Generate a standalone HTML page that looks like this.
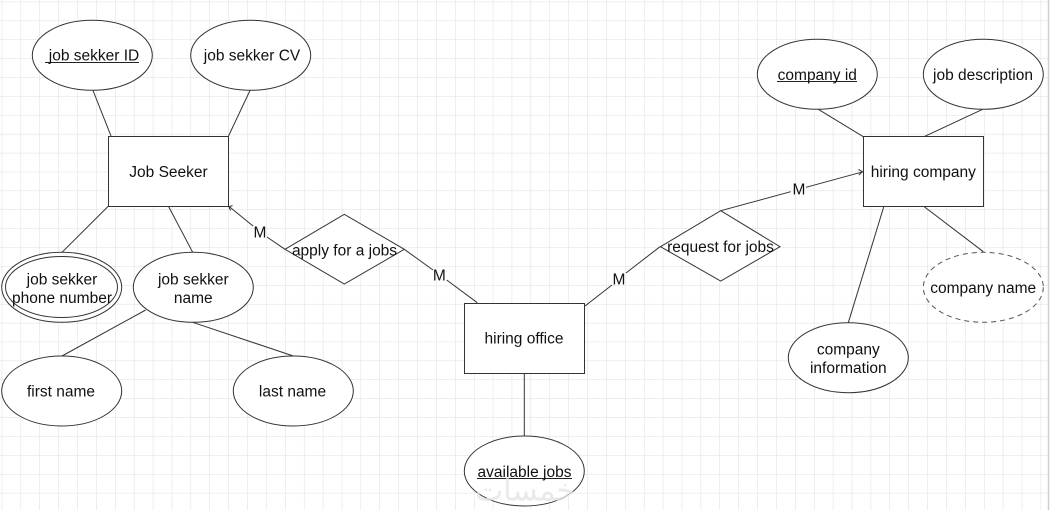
<!DOCTYPE html>
<html>
<head>
<meta charset="utf-8">
<style>
html,body{margin:0;padding:0;background:#fff;}
svg{display:block;}
text{font-family:"Liberation Sans",Arial,sans-serif;font-size:15.5px;fill:#111;}
</style>
</head>
<body>
<svg width="1051" height="510" viewBox="0 0 1051 510" xmlns="http://www.w3.org/2000/svg">
<defs>
<pattern id="grid" x="1.7" y="1.7" width="18.89" height="18.89" patternUnits="userSpaceOnUse">
<path d="M0 0 H18.89 M0 0 V18.89" stroke="#dedede" stroke-width="1" fill="none"/>
</pattern>
</defs>
<rect x="0" y="0" width="1051" height="510" fill="#fff"/>
<rect x="0" y="0" width="1048" height="510" fill="url(#grid)"/>
<line x1="1048.5" y1="0" x2="1048.5" y2="510" stroke="#cfcfcf" stroke-width="1.5"/>

<g stroke="#333" stroke-width="1" fill="none">
<!-- Job Seeker connections -->
<line x1="93" y1="90.5" x2="111" y2="136"/>
<line x1="250" y1="90.5" x2="228.5" y2="136"/>
<line x1="108.5" y1="206" x2="62" y2="252.3"/>
<line x1="168.3" y1="206" x2="192.7" y2="252.3"/>
<line x1="145.7" y1="310" x2="62" y2="356"/>
<line x1="192.7" y1="322.3" x2="293.3" y2="356"/>
<!-- Job seeker to apply -->
<line x1="228.5" y1="206" x2="253" y2="226"/>
<polyline points="232.5,205.5 229,206.8 230.5,210.5"/>
<line x1="267" y1="237" x2="285" y2="249.3"/>
<!-- apply to hiring office -->
<line x1="404.3" y1="249.3" x2="433" y2="270"/>
<line x1="446.7" y1="280" x2="477.3" y2="302.7"/>
<!-- hiring office to request -->
<line x1="585" y1="306" x2="612" y2="285"/>
<line x1="626" y1="273" x2="660" y2="246.7"/>
<!-- request to hiring company -->
<line x1="720.7" y1="210.7" x2="790.7" y2="191.7"/>
<line x1="806" y1="187.3" x2="863.3" y2="171.7"/>
<polyline points="858.5,169.5 862.5,171.7 858.8,175"/>
<!-- hiring office to available jobs -->
<line x1="524.3" y1="373.3" x2="524.3" y2="436"/>
<!-- hiring company attrs -->
<line x1="818.3" y1="109.3" x2="863.3" y2="136.7"/>
<line x1="982.7" y1="109.3" x2="924" y2="136.7"/>
<line x1="884" y1="206" x2="848.3" y2="322.7"/>
<line x1="924" y1="206.5" x2="983.3" y2="251.7"/>
</g>

<g stroke="#333" stroke-width="1" fill="#fff">
<!-- Job Seeker -->
<rect x="108.5" y="136.5" width="120" height="70"/>
<ellipse cx="92.3" cy="55.3" rx="60" ry="35"/>
<ellipse cx="250.7" cy="55.3" rx="60" ry="35"/>
<ellipse cx="61.7" cy="287.3" rx="60" ry="35"/>
<ellipse cx="61.5" cy="287" rx="56" ry="30.5"/>
<ellipse cx="193.3" cy="287.3" rx="60" ry="35"/>
<ellipse cx="61.7" cy="391" rx="60" ry="35"/>
<ellipse cx="293.3" cy="391" rx="60" ry="35"/>
<!-- apply diamond -->
<polygon points="285,249.3 344.3,214.3 404.3,249.3 344.3,284"/>
<!-- hiring office -->
<rect x="464.5" y="303.5" width="120" height="70"/>
<ellipse cx="524.3" cy="471" rx="60" ry="35"/>
<!-- request diamond -->
<polygon points="660.5,246.7 720.7,210.7 780,246.7 720.7,281"/>
<!-- hiring company -->
<rect x="863.5" y="136.5" width="120" height="70"/>
<ellipse cx="817.3" cy="74.3" rx="60" ry="35"/>
<ellipse cx="983.3" cy="74.3" rx="60" ry="35"/>
<ellipse cx="848.3" cy="357.7" rx="60" ry="35"/>
<ellipse cx="983.3" cy="287.3" rx="60" ry="35" stroke-dasharray="5,4" stroke="#555"/>
</g>

<!-- manual underlines -->
<g stroke="#222" stroke-width="1">
<line x1="45" y1="62.5" x2="139" y2="62.5"/>
<line x1="777" y1="81.5" x2="857" y2="81.5"/>
<line x1="477" y1="478.5" x2="572" y2="478.5"/>
</g>

<g text-anchor="middle" dominant-baseline="central">
<text x="94" y="56">job sekker ID</text>
<text x="252" y="56">job sekker CV</text>
<text x="168.5" y="172.5">Job Seeker</text>
<text x="62" y="280">job sekker</text>
<text x="62" y="298.3">phone number</text>
<text x="193.3" y="280">job sekker</text>
<text x="193.3" y="298.3">name</text>
<text x="61" y="392">first name</text>
<text x="292.5" y="392">last name</text>
<text x="344.5" y="251">apply for a jobs</text>
<text x="524" y="339">hiring office</text>
<text x="720.5" y="247.5">request for jobs</text>
<text x="524.5" y="472.5">available jobs</text>
<text x="817.3" y="75.3">company id</text>
<text x="983" y="75.3">job description</text>
<text x="923.3" y="172.7">hiring company</text>
<text x="983.2" y="288.3">company name</text>
<text x="848.3" y="350">company</text>
<text x="848.3" y="368.3">information</text>
<!-- cardinalities -->
<text x="260" y="233">M</text>
<text x="439.3" y="276">M</text>
<text x="619" y="280">M</text>
<text x="799" y="190">M</text>
</g>

<text x="525" y="491" text-anchor="middle" dominant-baseline="central" style="font-family:'DejaVu Sans',sans-serif;font-size:30px;fill:#e4e4e4;opacity:0.8">خمسات</text>
</svg>
</body>
</html>
